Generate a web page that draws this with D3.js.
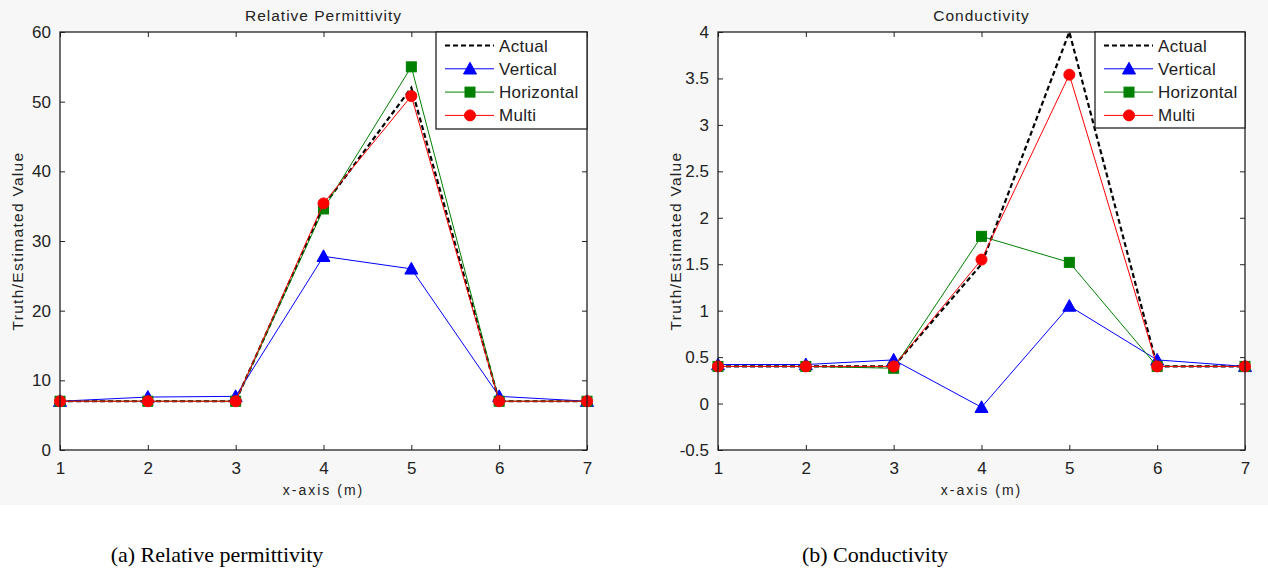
<!DOCTYPE html>
<html><head><meta charset="utf-8">
<script src="https://cdn.jsdelivr.net/npm/d3@7"></script>
<style>
body{margin:0;background:#fff;}
svg{display:block;}
</style></head>
<body>
<svg id="c" width="1268" height="581"></svg>
<script>
const xValues = [1,2,3,4,5,6,7];
const xTicks = [1,2,3,4,5,6,7];

// Relative permittivity
const permActual     = [7,7,7,35,52,7,7];
const permVertical   = [7,7.6,7.7,27.8,26,7.7,7];
const permHorizontal = [7,7,7,34.6,55,7,7];
const permMulti      = [7,7,7,35.4,50.8,7,7];
const permTicks = [0,10,20,30,40,50,60];

// Conductivity
const condActual     = [0.4,0.4,0.4,1.5,4.0,0.4,0.4];
const condVertical   = [0.42,0.42,0.47,-0.04,1.05,0.47,0.4];
const condHorizontal = [0.4,0.4,0.38,1.8,1.52,0.4,0.4];
const condMulti      = [0.4,0.4,0.4,1.55,3.54,0.4,0.4];
const condTicks = [-0.5,0,0.5,1,1.5,2,2.5,3,3.5,4];

const seriesNames = ["Actual","Vertical","Horizontal","Multi"];
const seriesColors = ["#000000","#0000ff","#008000","#ff0000"];
const seriesMarkers = [null,"triangle","square","circle"];

const svg = d3.select("#c");
svg.append("rect").attr("x",0).attr("y",0).attr("width",1268).attr("height",505).attr("fill","#f7f7f7");

const tickFont = "'Liberation Sans', Arial, sans-serif";

function drawMarker(g, type, x, y, color){
  if(type==="triangle"){
    const s=6.5;
    g.append("path").attr("d",`M${x},${y-s} L${x+s},${y+s*0.8} L${x-s},${y+s*0.8} Z`).attr("fill",color).attr("stroke",color);
  } else if(type==="square"){
    g.append("rect").attr("x",x-5).attr("y",y-5).attr("width",10).attr("height",10).attr("fill",color).attr("stroke",color);
  } else if(type==="circle"){
    g.append("circle").attr("cx",x).attr("cy",y).attr("r",5.5).attr("fill",color).attr("stroke",color);
  }
}

function panel(opts){
  const {x0,x1,y0,y1,domainY,yTicks,yFmt,title,data,legend,caption,capX} = opts;
  const x = d3.scaleLinear().domain([1,7]).range([x0,x1]);
  const y = d3.scaleLinear().domain(domainY).range([y1,y0]);
  const g = svg.append("g");
  g.append("rect").attr("x",x0).attr("y",y0).attr("width",x1-x0).attr("height",y1-y0).attr("fill","#fff");

  // axes (inward ticks on all sides)
  const axB = g.append("g").attr("transform",`translate(0,${y1})`).call(d3.axisBottom(x).tickValues(xTicks).tickSize(-5).tickPadding(10).tickFormat(d3.format("d")));
  const axT = g.append("g").attr("transform",`translate(0,${y0})`).call(d3.axisTop(x).tickValues(xTicks).tickSize(-5).tickFormat(""));
  const axL = g.append("g").attr("transform",`translate(${x0},0)`).call(d3.axisLeft(y).tickValues(yTicks).tickSize(-5).tickPadding(9).tickFormat(yFmt));
  const axR = g.append("g").attr("transform",`translate(${x1},0)`).call(d3.axisRight(y).tickValues(yTicks).tickSize(-5).tickFormat(""));
  [axB,axT,axL,axR].forEach(a=>{
    a.select(".domain").remove();
    a.selectAll("line").attr("stroke","#222");
    a.selectAll("text").attr("font-family",tickFont).attr("font-size",17).attr("fill","#222");
  });
  axB.selectAll("text").attr("dy","0.85em");

  // series
  const line = d3.line().x((d,i)=>x(xValues[i])).y(d=>y(d));
  data.forEach((vals,k)=>{
    const sg = g.append("g");
    sg.append("path").attr("d",line(vals)).attr("fill","none")
      .attr("stroke",seriesColors[k]).attr("stroke-width",k===0?2.2:1)
      .attr("stroke-dasharray",k===0?"5,3":null);
    if(seriesMarkers[k]) vals.forEach((v,i)=>drawMarker(sg,seriesMarkers[k],x(xValues[i]),y(v),seriesColors[k]));
  });

  // box
  g.append("rect").attr("x",x0).attr("y",y0).attr("width",x1-x0).attr("height",y1-y0).attr("fill","none").attr("stroke","#222").attr("stroke-width",1.3);

  // legend
  const lg = g.append("g");
  lg.append("rect").attr("x",legend.x).attr("y",y0).attr("width",x1-legend.x).attr("height",legend.h).attr("fill","#fff").attr("stroke","#222").attr("stroke-width",1.3);
  seriesNames.forEach((n,k)=>{
    const ry = y0 + 13.5 + k*23.3;
    lg.append("line").attr("x1",legend.x+9).attr("x2",legend.x+58).attr("y1",ry).attr("y2",ry)
      .attr("stroke",seriesColors[k]).attr("stroke-width",k===0?2.2:1).attr("stroke-dasharray",k===0?"5,3":null);
    if(seriesMarkers[k]) drawMarker(lg,seriesMarkers[k],legend.x+34,ry,seriesColors[k]);
    lg.append("text").attr("x",legend.x+63).attr("y",ry+6).text(n)
      .attr("font-family",tickFont).attr("font-size",17).attr("letter-spacing",0.3).attr("fill","#222");
  });

  const cx = (x0+x1)/2;
  g.append("text").attr("x",cx).attr("y",21).attr("text-anchor","middle").text(title)
    .attr("font-family",tickFont).attr("font-size",15.5).attr("letter-spacing",1).attr("fill","#222");
  g.append("text").attr("x",cx).attr("y",495).attr("text-anchor","middle").text("x-axis (m)")
    .attr("font-family",tickFont).attr("font-size",14).attr("letter-spacing",2).attr("fill","#222");
  g.append("text").attr("transform",`translate(${x0-37},${(y0+y1)/2}) rotate(-90)`).attr("text-anchor","middle").text("Truth/Estimated Value")
    .attr("font-family",tickFont).attr("font-size",15.5).attr("letter-spacing",1.3).attr("fill","#222");
  svg.append("text").attr("x",capX).attr("y",562).attr("text-anchor","middle").text(caption)
    .attr("font-family","'Liberation Serif', 'Times New Roman', serif").attr("font-size",22).attr("fill","#000");
}

panel({x0:60,x1:587,y0:32,y1:450,domainY:[0,60],yTicks:permTicks,yFmt:d3.format("d"),
  title:"Relative Permittivity",data:[permActual,permVertical,permHorizontal,permMulti],
  legend:{x:436,h:97},caption:"(a)  Relative permittivity",capX:217});
panel({x0:718,x1:1245,y0:32,y1:450,domainY:[-0.5,4],yTicks:condTicks,yFmt:d=>String(d),
  title:"Conductivity",data:[condActual,condVertical,condHorizontal,condMulti],
  legend:{x:1095,h:96},caption:"(b) Conductivity",capX:875});
</script>
</body></html>
